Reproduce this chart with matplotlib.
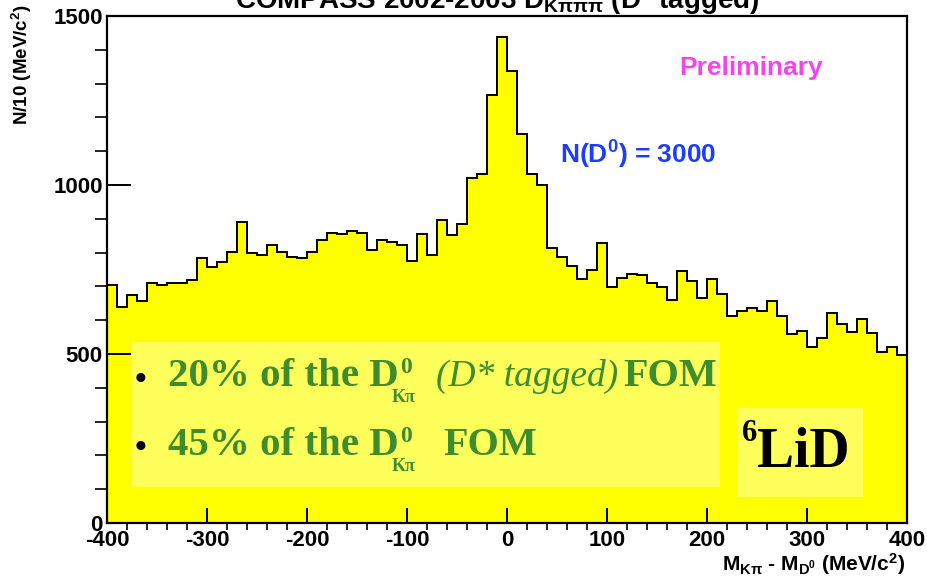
import numpy as np
import matplotlib.pyplot as plt
from matplotlib.patches import Rectangle

# D0 -> K pi pi pi candidates, 10 MeV/c^2 bins from -400 to 400
counts = [704, 640, 674, 658, 709, 703, 710, 710, 718, 783,
          758, 773, 803, 891, 800, 792, 822, 803, 787, 784,
          803, 837, 857, 854, 865, 857, 808, 838, 832, 822,
          775, 854, 792, 896, 851, 884, 1022, 1033, 1265, 1439,
          1337, 1150, 1033, 1000, 815, 788, 760, 721, 750, 827,
          697, 724, 737, 733, 711, 697, 660, 746, 717, 667,
          722, 678, 612, 627, 637, 627, 658, 612, 558, 569,
          522, 546, 622, 588, 566, 603, 561, 505, 522, 498]
mass_range = (-400, 400)
n_signal = 3000

plt.rcParams['font.family'] = 'Liberation Sans'
plt.rcParams['font.weight'] = 'bold'
plt.rcParams['axes.unicode_minus'] = False
plt.rcParams['mathtext.fontset'] = 'custom'
plt.rcParams['mathtext.rm'] = 'Liberation Sans:bold'
plt.rcParams['mathtext.it'] = 'Liberation Sans:bold'
plt.rcParams['mathtext.bf'] = 'Liberation Sans:bold'
plt.rcParams['mathtext.default'] = 'rm'

W, H = 927, 580
fig = plt.figure(figsize=(W / 100, H / 100), dpi=100)
ax = fig.add_axes([107 / W, 57 / H, 800 / W, 507 / H])

edges = np.linspace(mass_range[0], mass_range[1], len(counts) + 1)
ax.stairs(counts, edges, fill=True, color='#ffff00', zorder=1)
ax.stairs(counts, edges, color='black', lw=1.4, zorder=2)

ax.set_xlim(*mass_range)
ax.set_ylim(0, 1500)
ax.set_xticks(np.arange(-400, 401, 100))
ax.set_xticks(np.arange(-400, 401, 20), minor=True)
ax.set_yticks([0, 500, 1000, 1500])
ax.set_yticks(np.arange(0, 1501, 100), minor=True)
ax.tick_params(axis='both', direction='in', labelsize=16, width=1.4, color='black')
ax.tick_params(axis='x', which='major', length=11, pad=5)
ax.tick_params(axis='x', which='minor', length=5, width=1.2)
ax.tick_params(axis='y', which='major', length=17, pad=3)
ax.tick_params(axis='y', which='minor', length=8.5, width=1.2)
for lab in ax.get_xticklabels() + ax.get_yticklabels():
    lab.set_fontweight('bold')
for s in ax.spines.values():
    s.set_linewidth(1.6)
    s.set_zorder(5)


def fx(x):
    return x / W


def fy(y):
    return 1 - y / H


# titles and labels
fig.text(fx(497), fy(8), r'COMPASS 2002-2003 D$_{K\pi\pi\pi}$ (D* tagged)',
         fontsize=20, ha='center', va='baseline', fontweight='bold')
fig.text(fx(22), fy(5), r'N/10 (MeV/c$^{2}$)', rotation=90, fontsize=13.5,
         ha='center', va='top', fontweight='bold')
fig.text(fx(905), fy(571), r'M$_{K\pi}$ - M$_{D^{0}}$ (MeV/c$^{2}$)', fontsize=15,
         ha='right', va='baseline', fontweight='bold')

fig.text(fx(751), fy(68), 'Preliminary', color='#f444ee', fontsize=19,
         ha='center', va='center', fontweight='bold')
fig.text(fx(638), fy(155), r'N(D$^{0}$) = %d' % n_signal, color='#1e3cff', fontsize=19,
         ha='center', va='center', fontweight='bold')

# pasted note boxes
fig.add_artist(Rectangle((fx(132), fy(487)), 588 / W, 145 / H, transform=fig.transFigure,
                         facecolor='#ffff5c', edgecolor='none', zorder=6))
fig.add_artist(Rectangle((fx(737), fy(497)), 126 / W, 89 / H, transform=fig.transFigure,
                         facecolor='#ffff5c', edgecolor='none', zorder=6))

green = '#3e8c2c'
serif = 'Liberation Serif'


def note(x, y, s, size, color=green, style='normal', weight='bold'):
    fig.text(fx(x), fy(y), s, fontsize=size, color=color, family=serif,
             style=style, fontweight=weight, ha='left', va='baseline', zorder=7)


# first line
note(135, 389, u'\u2022', 24, color='black')
note(168, 386, '20% of the D', 29.5)
note(400, 373, '0', 17)
note(392, 402, u'K\u03c0', 13)
note(436, 386, '(D* tagged)', 27, style='italic', weight='normal')
note(623, 386, 'FOM', 29)
# second line
note(135, 457, u'\u2022', 24, color='black')
note(168, 455, '45% of the D', 29.5)
note(400, 442, '0', 17)
note(392, 471, u'K\u03c0', 13)
note(443, 455, 'FOM', 29)

# target label
note(742, 441, '6', 22, color='black')
note(757, 467, 'LiD', 40, color='black')

fig.savefig('out.png', dpi=100)
